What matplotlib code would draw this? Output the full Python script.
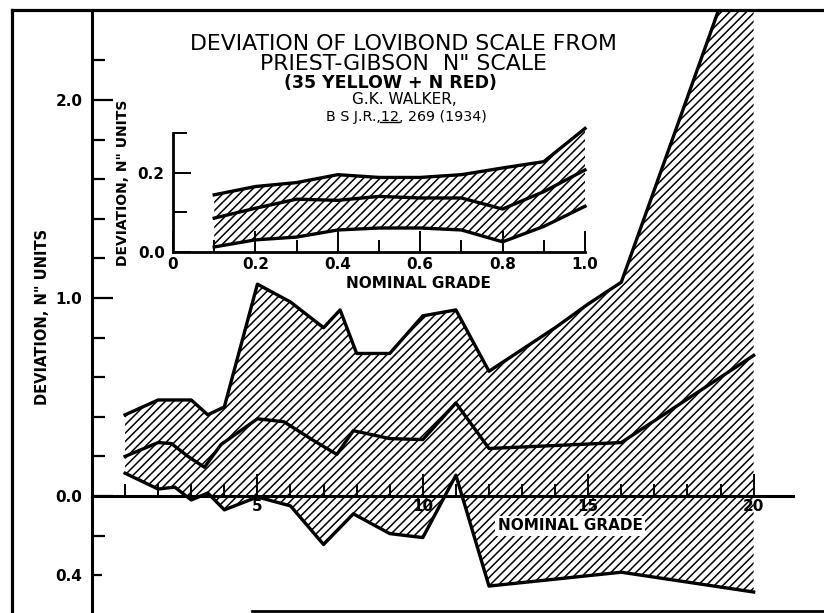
import matplotlib
matplotlib.use("Agg")
import matplotlib.pyplot as plt
import numpy as np
from matplotlib.lines import Line2D

# ---------------- data ----------------
upper_x = [1, 2, 3, 3.5, 4, 5, 6, 7, 7.5, 8, 9, 10, 11, 12, 13, 14, 15, 16, 20]
upper_y = [0.41, 0.485, 0.485, 0.41, 0.45, 1.07, 0.98, 0.85, 0.94, 0.72, 0.72, 0.91, 0.94, 0.63, 0.74, 0.85, 0.97, 1.08, 2.95]

mid_x = [1, 2, 2.4, 2.9, 3.4, 3.9, 5, 5.8, 6.7, 7.4, 7.9, 9, 10, 11, 12, 16, 20]
mid_y = [0.20, 0.27, 0.265, 0.20, 0.145, 0.26, 0.39, 0.375, 0.28, 0.21, 0.33, 0.29, 0.285, 0.47, 0.24, 0.27, 0.71]

lower_x = [1, 2, 2.5, 3, 3.5, 4, 5, 6, 7, 7.9, 9, 10, 11, 12, 14, 16, 20]
lower_y = [0.115, 0.035, 0.045, -0.02, 0.015, -0.07, -0.005, -0.05, -0.245, -0.09, -0.19, -0.21, 0.105, -0.455, -0.42, -0.385, -0.485]

inset_x = [0.1, 0.2, 0.3, 0.4, 0.5, 0.6, 0.7, 0.8, 0.9, 1.0]
inset_upper = [0.144, 0.165, 0.175, 0.195, 0.188, 0.188, 0.195, 0.212, 0.228, 0.312]
inset_mid = [0.085, 0.11, 0.133, 0.13, 0.14, 0.136, 0.136, 0.108, 0.152, 0.207]
inset_lower = [0.012, 0.03, 0.037, 0.055, 0.06, 0.06, 0.055, 0.025, 0.064, 0.115]

main_major_x = [5, 10, 15, 20]
main_major_xlabels = ["5", "10", "15", "20"]
main_major_y = [-0.4, 0.0, 1.0, 2.0]
main_major_ylabels = ["0.4", "0.0", "1.0", "2.0"]
inset_major_x = [0, 0.2, 0.4, 0.6, 0.8, 1.0]
inset_major_xlabels = ["0", "0.2", "0.4", "0.6", "0.8", "1.0"]
inset_major_y = [0.0, 0.2]
inset_major_ylabels = ["0.0", "0.2"]

title_lines = ["DEVIATION OF LOVIBOND SCALE FROM", 'PRIEST-GIBSON  N" SCALE',
               "(35 YELLOW + N RED)", "G.K. WALKER,"]
ref_pre, ref_vol, ref_post = "B S J.R.,", "12", ", 269 (1934)"
ylabel_text = 'DEVIATION, N" UNITS'
xlabel_text = "NOMINAL GRADE"

plt.rcParams['font.family'] = ['DejaVu Sans']
plt.rcParams['hatch.linewidth'] = 1.1

W, H = 824, 613
fig = plt.figure(figsize=(W / 100, H / 100), dpi=100)
fig.patch.set_facecolor('white')

def fx(px):
    return px / W

def fy(py):
    return 1 - py / H

LW = 2.4
HATCH = '////'

# ---------------- main axes ----------------
ax = fig.add_axes([fx(92), fy(612), fx(793) - fx(92), fy(10) - fy(612)])
ax.set_xlim(0, 21.19)
ax.set_ylim(-0.586, 2.455)
ax.patch.set_visible(False)
for s in ['top', 'right']:
    ax.spines[s].set_visible(False)
ax.spines['bottom'].set_position(('data', 0))
ax.spines['bottom'].set_linewidth(2.2)
ax.spines['left'].set_linewidth(2.2)

poly_x = np.concatenate([upper_x, lower_x[::-1]])
poly_y = np.concatenate([upper_y, lower_y[::-1]])
ax.fill(poly_x, poly_y, facecolor='white', edgecolor='black', hatch=HATCH, linewidth=0, zorder=1)
ax.plot(upper_x, upper_y, color='black', lw=LW, zorder=3)
ax.plot(mid_x, mid_y, color='black', lw=LW, zorder=3)
ax.plot(lower_x, lower_y, color='black', lw=LW, zorder=3)

ax.set_xticks(main_major_x)
ax.set_xticklabels(main_major_xlabels, fontsize=11, fontweight='bold')
ax.set_xticks([i for i in range(1, 20) if i % 5 != 0], minor=True)
ax.tick_params(axis='x', which='major', direction='in', length=16, width=1.4, pad=2)
ax.tick_params(axis='x', which='minor', direction='in', length=9, width=1.4)

ax.set_yticks(main_major_y)
ax.set_yticklabels(main_major_ylabels, fontsize=11, fontweight='bold')
minor_y = [round(v, 1) for v in np.arange(-0.4, 2.3, 0.2) if round(v, 1) not in (0.0, 1.0, 2.0)]
ax.set_yticks(minor_y, minor=True)
ax.tick_params(axis='y', which='major', direction='in', length=15, width=1.6, pad=7)
ax.tick_params(axis='y', which='minor', direction='in', length=9, width=1.6)
ax.yaxis.get_major_ticks()[0].tick1line.set_markersize(7)

fig.text(fx(43), fy(317), ylabel_text, rotation=90, ha='center', va='center',
         fontsize=10.5, fontweight='bold')
fig.text(fx(570), fy(526), xlabel_text, ha='center', va='center', fontsize=11,
         fontweight='bold', bbox=dict(facecolor='white', edgecolor='none', pad=1.5))

# ---------------- inset axes ----------------
ia = fig.add_axes([fx(173), fy(251.7), fx(585) - fx(173), fy(133.2) - fy(251.7)])
ia.set_xlim(0, 1.0)
ia.set_ylim(0, 0.3)
ia.patch.set_visible(False)
for s in ['top', 'right']:
    ia.spines[s].set_visible(False)
ia.spines['bottom'].set_linewidth(2.0)
ia.spines['left'].set_linewidth(2.0)
ipx = np.concatenate([inset_x, inset_x[::-1]])
ipy = np.concatenate([inset_upper, inset_lower[::-1]])
ia.fill(ipx, ipy, facecolor='white', edgecolor='black', hatch=HATCH, linewidth=0, zorder=1, clip_on=False)
for yy in (inset_upper, inset_mid, inset_lower):
    ia.plot(inset_x, yy, color='black', lw=LW, zorder=3, clip_on=False)

ia.set_xticks(inset_major_x)
ia.set_xticklabels(inset_major_xlabels, fontsize=11, fontweight='bold')
ia.set_xticks([0.1, 0.3, 0.5, 0.7, 0.9], minor=True)
ia.tick_params(axis='x', which='major', direction='in', length=15, width=1.4, pad=4)
ia.tick_params(axis='x', which='minor', direction='in', length=9, width=1.4)
ia.set_yticks(inset_major_y)
ia.set_yticklabels(inset_major_ylabels, fontsize=11, fontweight='bold')
ia.set_yticks([0.1, 0.3], minor=True)
ia.tick_params(axis='y', which='major', direction='in', length=13, width=1.4, pad=6)
ia.tick_params(axis='y', which='minor', direction='in', length=10, width=1.4)

fig.text(fx(123), fy(183), ylabel_text, rotation=90, ha='center', va='center',
         fontsize=10, fontweight='bold')
fig.text(fx(418), fy(283), xlabel_text, ha='center', va='center', fontsize=11,
         fontweight='bold')

# ---------------- title block ----------------
fig.text(fx(403), fy(54), title_lines[0] + "\n" + title_lines[1], ha='center', va='center',
         multialignment='center', fontsize=15.8, linespacing=0.95)
fig.text(fx(390), fy(83), title_lines[2], ha='center', va='center', fontsize=12.5, fontweight='bold')
fig.text(fx(404), fy(100), title_lines[3], ha='center', va='center', fontsize=11)
ref_full = ref_pre + ref_vol + ref_post
tref = fig.text(fx(406), fy(117), ref_full, ha='center', va='center', fontsize=10.3)

fig.canvas.draw()
renderer = fig.canvas.get_renderer()
bb = tref.get_window_extent(renderer)
fp = tref.get_fontproperties()
w_pre = renderer.get_text_width_height_descent(ref_pre, fp, ismath=False)[0]
w_vol = renderer.get_text_width_height_descent(ref_pre + ref_vol, fp, ismath=False)[0]
w_all = renderer.get_text_width_height_descent(ref_full, fp, ismath=False)[0]
scale = bb.width / w_all
x0 = bb.x0 + w_pre * scale
x1 = bb.x0 + w_vol * scale
yline = bb.y0 + 1.5
inv = fig.transFigure.inverted()
(a0, b0), (a1, b1) = inv.transform([(x0, yline), (x1, yline)])
fig.add_artist(Line2D([a0, a1], [b0, b1], color='black', lw=1.0, transform=fig.transFigure))

# ---------------- outer frame ----------------
fig.add_artist(Line2D([fx(12), fx(12)], [fy(10), 0], color='black', lw=2.3, transform=fig.transFigure))
fig.add_artist(Line2D([fx(12), 1], [fy(10), fy(10)], color='black', lw=2.3, transform=fig.transFigure))
fig.add_artist(Line2D([fx(252), 1], [fy(611), fy(611)], color='black', lw=2.0, transform=fig.transFigure))

fig.savefig("out.png", dpi=100, facecolor='white')
